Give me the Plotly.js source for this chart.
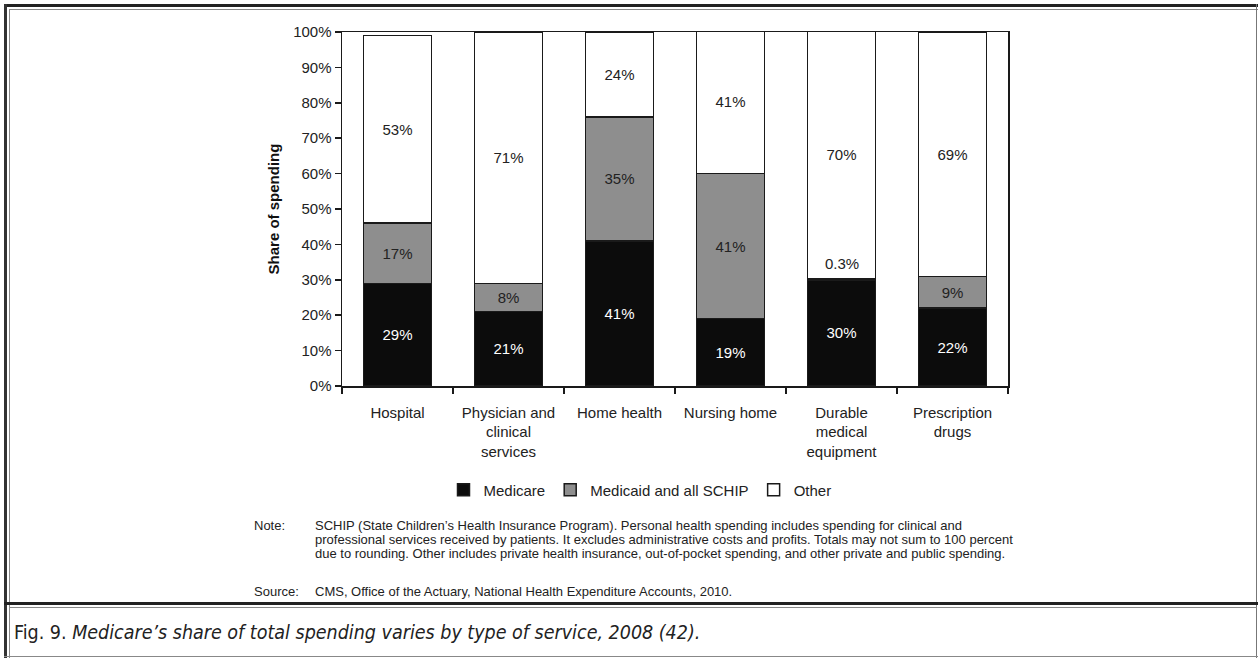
<!DOCTYPE html>
<html>
<head>
<meta charset="utf-8">
<script src="https://cdn.plot.ly/plotly-3.0.1.min.js"></script>
<style>
  html, body { margin: 0; padding: 0; background: #fff; }
  #wrap { position: relative; width: 1258px; height: 658px; overflow: hidden; }
  #chart { position: absolute; left: 0; top: 0; width: 1258px; height: 658px; }
  .ln { position: absolute; pointer-events: none; }
</style>
</head>
<body>
<div id="wrap">
  <div id="chart"></div>
  <!-- frame lines -->
  <div class="ln" style="left:4px;top:4px;width:1254px;height:3px;background:#222;"></div>
  <div class="ln" style="left:9px;top:9px;width:1249px;height:1px;background:#888;"></div>
  <div class="ln" style="left:4px;top:4px;width:3px;height:654px;background:#333;"></div>
  <div class="ln" style="left:9px;top:9px;width:1px;height:649px;background:#888;"></div>
  <div class="ln" style="left:1256px;top:4px;width:1px;height:654px;background:#777;"></div>
  <div class="ln" style="left:4px;top:656px;width:1254px;height:1px;background:#888;"></div>
  <div class="ln" style="left:4px;top:602px;width:1254px;height:3px;background:#222;"></div>
  <div class="ln" style="left:9px;top:607px;width:1248px;height:1px;background:#888;"></div>
</div>
<script>
// ---- data ----
const categories = ['Hospital', 'Physician and<br>clinical<br>services', 'Home health', 'Nursing home',
                    'Durable<br>medical<br>equipment', 'Prescription<br>drugs'];
const medicare = [29, 21, 41, 19, 30, 22];
const medicaid = [17, 8, 35, 41, 0.3, 9];
const other    = [53, 71, 24, 41, 70, 69];
const yTicks   = [0, 10, 20, 30, 40, 50, 60, 70, 80, 90, 100];
const seriesNames = ['Medicare', 'Medicaid and all SCHIP', 'Other'];
const noteLines = [
  'SCHIP (State Children\u2019s Health Insurance Program). Personal health spending includes spending for clinical and',
  'professional services received by patients. It excludes administrative costs and profits. Totals may not sum to 100 percent',
  'due to rounding. Other includes private health insurance, out-of-pocket spending, and other private and public spending.'
];
const sourceText = 'CMS, Office of the Actuary, National Health Expenditure Accounts, 2010.';
const captionText = 'Fig. 9. <i>Medicare\u2019s share of total spending varies by type of service, 2008 (42).</i>';

// ---- geometry helpers (pixel -> paper) ----
const L = 342, R = 1008, T = 32, B = 386;
const px = x => (x - L) / (R - L);
const py = y => (B - y) / (B - T);

const FONT = 'Liberation Sans, Arial, sans-serif';
const lineStyle = {color: '#1a1a1a', width: 1.5};
const pct = v => v + '%';

// label positions: small slice label drawn above the bar
const medicaidPos = medicaid.map(v => v < 2 ? 'none' : 'inside');

const common = {
  type: 'bar', x: categories, texttemplate: '%{text}', textposition: 'inside',
  insidetextanchor: 'middle', textangle: 0, constraintext: 'none', hoverinfo: 'skip'
};

const traces = [
  Object.assign({}, common, {
    name: seriesNames[0], y: medicare, text: medicare.map(pct),
    marker: {color: '#0c0c0c', line: lineStyle},
    insidetextfont: {family: FONT, size: 15, color: '#ffffff'}
  }),
  Object.assign({}, common, {
    name: seriesNames[1], y: medicaid, text: medicaid.map(pct), textposition: medicaidPos,
    marker: {color: '#8e8e8e', line: lineStyle},
    insidetextfont: {family: FONT, size: 15, color: '#222222'}
  }),
  Object.assign({}, common, {
    name: seriesNames[2], y: other, text: other.map(pct),
    marker: {color: '#ffffff', line: lineStyle},
    insidetextfont: {family: FONT, size: 15, color: '#222222'}
  })
];

const annotations = [];
// small slice labels
medicaid.forEach((v, i) => {
  if (medicaidPos[i] === 'none') {
    annotations.push({
      x: categories[i], y: medicare[i] + v, xref: 'x', yref: 'y',
      text: pct(v), showarrow: false, yanchor: 'bottom', yshift: 5,
      font: {family: FONT, size: 15, color: '#222'}
    });
  }
});
// note & source
const NOTE_FONT = {family: FONT, size: 13, color: '#222'};
annotations.push({
  xref: 'paper', yref: 'paper', x: px(252), y: py(525), xanchor: 'left', yanchor: 'middle',
  text: 'Note:', showarrow: false, font: NOTE_FONT
});
noteLines.forEach((t, i) => {
  annotations.push({
    xref: 'paper', yref: 'paper', x: px(313), y: py(525 + i * 14.3), xanchor: 'left', yanchor: 'middle',
    text: t, showarrow: false, font: NOTE_FONT
  });
});
annotations.push({
  xref: 'paper', yref: 'paper', x: px(252), y: py(591), xanchor: 'left', yanchor: 'middle',
  text: 'Source:', showarrow: false, font: NOTE_FONT
});
annotations.push({
  xref: 'paper', yref: 'paper', x: px(313), y: py(591), xanchor: 'left', yanchor: 'middle',
  text: sourceText, showarrow: false, font: NOTE_FONT
});
// caption
annotations.push({
  xref: 'paper', yref: 'paper', x: px(12), y: py(632), xanchor: 'left', yanchor: 'middle',
  text: captionText, showarrow: false,
  font: {family: 'Liberation Sans Narrow, DejaVu Sans Condensed, sans-serif', size: 19.5, color: '#222'}
});

const layout = {
  width: 1258, height: 658,
  margin: {l: L, r: 1258 - R, t: T, b: 658 - B, pad: 0},
  paper_bgcolor: '#ffffff', plot_bgcolor: '#ffffff',
  barmode: 'stack', bargap: 0.39,
  font: {family: FONT, size: 15, color: '#222'},
  showlegend: true,
  legend: {
    orientation: 'h', x: px(640), xanchor: 'center', y: py(490), yanchor: 'middle',
    font: {family: FONT, size: 15, color: '#222'}, itemwidth: 30, traceorder: 'normal',
    itemclick: false, itemdoubleclick: false
  },
  xaxis: {
    type: 'category', showline: true, linecolor: '#1a1a1a', linewidth: 1.5, mirror: true,
    ticks: 'outside', tickson: 'boundaries', ticklen: 6, tickcolor: '#1a1a1a', tickwidth: 1.5,
    tickfont: {family: FONT, size: 15, color: '#222'}, ticklabelstandoff: 12,
    showgrid: false, zeroline: false, fixedrange: true
  },
  yaxis: {
    range: [0, 100], tickvals: yTicks, ticktext: yTicks.map(pct),
    showline: true, linecolor: '#1a1a1a', linewidth: 1.5, mirror: true,
    ticks: 'outside', ticklen: 6, tickcolor: '#1a1a1a', tickwidth: 1.5,
    tickfont: {family: FONT, size: 15, color: '#222'},
    showgrid: false, zeroline: false, fixedrange: true,
    title: {text: '<b>Share of spending</b>', font: {family: FONT, size: 15, color: '#111'}, standoff: 10}
  },
  annotations: annotations
};

Plotly.newPlot('chart', traces, layout, {displayModeBar: false, staticPlot: true});
</script>
</body>
</html>
